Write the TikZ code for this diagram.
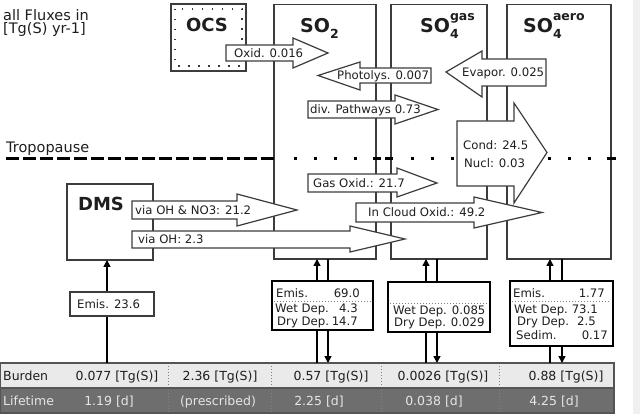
\documentclass[tikz,border=0pt]{standalone}
\usepackage{fontspec}
\setmainfont{DejaVu Sans}
\usetikzlibrary{arrows.meta}
\definecolor{bordc}{HTML}{3C3C3C}
\definecolor{txtc}{HTML}{1E1E1E}
\definecolor{burdc}{HTML}{EAEAEA}
\definecolor{lifec}{HTML}{6E6E6E}
\definecolor{lifetxt}{HTML}{E6E6E6}
\definecolor{stripc}{HTML}{F0F0F0}
\definecolor{tabc}{HTML}{555555}
\newcommand\sotitle[2]{SO\makebox[0pt][l]{\raisebox{-6pt}{\fontsize{12.5}{13}\selectfont\bfseries #1}}\raisebox{12.5pt}{\fontsize{12.5}{13}\selectfont\bfseries #2}}
\begin{document}
\begin{tikzpicture}[x=1pt,y=-1pt,
  bigbox/.style={draw=bordc, line width=1.3pt, fill=white, inner sep=0pt, outer sep=0pt, anchor=north west},
  fluxbox/.style={draw=black, line width=2pt, fill=white, inner sep=0pt, outer sep=0pt, anchor=north west},
  farrow/.style={draw=bordc, line width=1.2pt, fill=white, line join=miter},
  lbl/.style={text=txtc, font=\fontsize{11.7}{13}\selectfont, inner sep=0pt, anchor=base west},
  lblr/.style={lbl, anchor=base east},
  ttl/.style={text=txtc, font=\fontsize{18}{20}\selectfont\bfseries, inner sep=0pt, anchor=base},
  sottl/.style={text=txtc, font=\fontsize{19}{21}\selectfont\bfseries, inner sep=0pt, anchor=base west},
  hdr/.style={text=txtc, font=\fontsize{14.5}{16}\selectfont, inner sep=0pt, anchor=base west},
  tabt/.style={text=txtc, font=\fontsize{12.5}{14}\selectfont, inner sep=0pt, anchor=base},
  tabl/.style={tabt, text=lifetxt},
  conn/.style={line width=1.5pt, draw=black},
  upc/.style={conn, -{Triangle[length=7pt,width=7pt]}},
  fdots/.style={draw=gray, line width=0.8pt, dash pattern=on 1pt off 2pt},
  tropo/.style={line width=3pt, draw=black}
]
\useasboundingbox (0,0) rectangle (640,414);
\fill[stripc] (633,0) rectangle (640,414);

% header texts
\node[hdr] (h1) at (3,20.5) {all Fluxes in};
\node[hdr] (h2) at (3,34) {[Tg(S) yr-1]};
\node[hdr] (trop) at (6,152.5) {Tropopause};

% compartment boxes
\node[bigbox, minimum width=75pt, minimum height=67pt] (ocs) at (171,4) {};
\draw[bordc, line width=1.2pt, dash pattern=on 1.5pt off 8.5pt] (175,9) rectangle (242,66);
\node[bigbox, minimum width=102pt, minimum height=254.5pt] (so2) at (274,4.5) {};
\node[bigbox, minimum width=96pt, minimum height=254.5pt] (gas) at (391,4.5) {};
\node[bigbox, minimum width=104pt, minimum height=254.5pt] (aero) at (507,4.5) {};
\node[bigbox, minimum width=86pt, minimum height=76pt] (dms) at (67,184) {};

\node[ttl] (tocs) at (207,32) {OCS};
\node[ttl] (tdms) at (101,211) {DMS};
\node[sottl] (tso2) at (300,33) {\sotitle{2}{}};
\node[sottl] (tgas) at (420,33) {\sotitle{4}{gas}};
\node[sottl] (taero) at (523,33) {\sotitle{4}{aero}};

% tropopause
\draw[tropo, dash pattern=on 13pt off 4pt] (6,159) -- (277,159);
\draw[tropo, dash pattern=on 3pt off 17pt] (293.5,159) -- (357,159);
\draw[tropo, dash pattern=on 3pt off 17pt] (410.5,159) -- (473,159);
\draw[tropo, dash pattern=on 3pt off 17pt] (547.5,159) -- (592,159);
\draw[tropo] (373,159) -- (381,159);
\draw[tropo] (385,159) -- (393,159);
\draw[tropo] (607,159) -- (616,159);

% flux arrows
\draw[farrow] (226,45) -- (293,45) -- (293,38) -- (328,53) -- (293,68) -- (293,61) -- (226,61) -- cycle;
\draw[farrow] (431,68) -- (360,68) -- (360,62) -- (318,75.5) -- (360,90) -- (360,83) -- (431,83) -- cycle;
\draw[farrow] (308,101) -- (395,101) -- (395,95) -- (438,109.5) -- (395,124) -- (395,118) -- (308,118) -- cycle;
\draw[farrow] (546,59) -- (482,59) -- (482,51) -- (446,72) -- (482,97) -- (482,86) -- (546,86) -- cycle;
\draw[farrow] (457,121) -- (514,121) -- (514,103) -- (547,152.5) -- (514,203) -- (514,186) -- (457,186) -- cycle;
\draw[farrow] (308,174) -- (397,174) -- (397,168) -- (437,183) -- (397,197) -- (397,192) -- (308,192) -- cycle;
\draw[farrow] (356,203) -- (474,203) -- (474,197) -- (542,212.5) -- (474,228) -- (474,222) -- (356,222) -- cycle;
\draw[farrow] (132,201) -- (237,201) -- (237,194) -- (297,210) -- (237,226) -- (237,219) -- (132,219) -- cycle;
\draw[farrow] (132,231) -- (350,231) -- (350,226) -- (405,239) -- (350,252) -- (350,248) -- (132,248) -- cycle;

\node[lbl] (loxid) at (234,57.3) {Oxid. 0.016};
\node[lbl] (lphot) at (337,79.8) {Photolys. 0.007};
\node[lbl] (ldiv) at (310,113.8) {div. Pathways 0.73};
\node[lbl] (levap) at (462,76.3) {Evapor. 0.025};
\node[lbl] (lcond) at (463,150) {Cond: 24.5};
\node[lbl] (lnucl) at (464,168) {Nucl: 0.03};
\node[lbl] (lgas) at (313,187.3) {Gas Oxid.: 21.7};
\node[lbl] (lcloud) at (368,216.8) {In Cloud Oxid.: 49.2};
\node[lbl] (lno3) at (135,214.3) {via OH \& NO3: 21.2};
\node[lbl] (loh) at (138,243.3) {via OH: 2.3};

% table
\node[fill=burdc, inner sep=0pt, outer sep=0pt, anchor=north west, minimum width=614pt, minimum height=25pt] (burden) at (0,363) {};
\node[fill=lifec, inner sep=0pt, outer sep=0pt, anchor=north west, minimum width=614pt, minimum height=25pt] (lifet) at (0,388) {};
\foreach \x in {168,271,381,499} \draw[gray, line width=0.8pt, dash pattern=on 1pt off 2pt] (\x,363) -- (\x,413);
\draw[tabc, line width=1.5pt] (burden.north west) rectangle (lifet.south east);
\draw[tabc, line width=1.5pt] (burden.south west) -- (burden.south east);

\node[tabt, anchor=base west] (bl) at (3,380) {Burden};
\node[tabl, anchor=base west] (ll) at (3,405) {Lifetime};
\node[tabt] (b1) at (117,380) {0.077 [Tg(S)]};
\node[tabt] (b2) at (220,380) {2.36 [Tg(S)]};
\node[tabt] (b3) at (331,380) {0.57 [Tg(S)]};
\node[tabt] (b4) at (443,380) {0.0026 [Tg(S)]};
\node[tabt] (b5) at (566,380) {0.88 [Tg(S)]};
\node[tabl] (l1) at (109,405) {1.19 [d]};
\node[tabl] (l2) at (218,405) {(prescribed)};
\node[tabl] (l3) at (319,405) {2.25 [d]};
\node[tabl] (l4) at (434,405) {0.038 [d]};
\node[tabl] (l5) at (554,405) {4.25 [d]};

% connectors
\coordinate (xd) at (107,0);
\coordinate (xs1) at (317,0);
\coordinate (xs2) at (328,0);
\coordinate (xg1) at (426,0);
\coordinate (xg2) at (437,0);
\coordinate (xa1) at (550,0);
\coordinate (xa2) at (562,0);
\draw[upc] (xd |- burden.north) -- (xd |- dms.south);
\draw[upc] (xs1 |- burden.north) -- (xs1 |- so2.south);
\draw[upc] (xs2 |- so2.south) -- (xs2 |- burden.north);
\draw[upc] (xg1 |- burden.north) -- (xg1 |- gas.south);
\draw[upc] (xg2 |- gas.south) -- (xg2 |- burden.north);
\draw[upc] (xa1 |- burden.north) -- (xa1 |- aero.south);
\draw[upc] (xa2 |- aero.south) -- (xa2 |- burden.north);

% flux boxes
\node[bigbox, minimum width=84pt, minimum height=24pt] (fdms) at (70,292) {};
\node[lbl] (edms) at (77,308.3) {Emis. 23.6};

\node[fluxbox, minimum width=101pt, minimum height=49pt] (fso2) at (272,281) {};
\draw[fdots] (274,301) -- (371,301);
\node[lbl] (s2a) at (276,297.3) {Emis.};
\node[lbl] (s2b) at (275,312.8) {Wet Dep.};
\node[lbl] (s2c) at (277,325.3) {Dry Dep.};
\node[lblr] (s2d) at (360,297.3) {69.0};
\node[lblr] (s2e) at (358,312.8) {4.3};
\node[lblr] (s2f) at (358,325.3) {14.7};

\node[fluxbox, minimum width=102pt, minimum height=50pt] (fgas) at (388,282) {};
\draw[fdots] (390,303) -- (488,303);
\node[lbl] (g1) at (393,314.3) {Wet Dep. 0.085};
\node[lbl] (g2) at (394,326.3) {Dry Dep. 0.029};

\node[fluxbox, minimum width=103pt, minimum height=65pt] (faero) at (510,281) {};
\draw[fdots] (512,301) -- (611,301);
\node[lbl] (a1) at (513,297.3) {Emis.};
\node[lbl] (a2) at (514,313) {Wet Dep.};
\node[lbl] (a3) at (517,325.3) {Dry Dep.};
\node[lbl] (a4) at (516,339.3) {Sedim.};
\node[lblr] (a5) at (605,297.3) {1.77};
\node[lblr] (a6) at (598,313) {73.1};
\node[lblr] (a7) at (596,325.3) {2.5};
\node[lblr] (a8) at (608,339.3) {0.17};
\end{tikzpicture}
\end{document}
